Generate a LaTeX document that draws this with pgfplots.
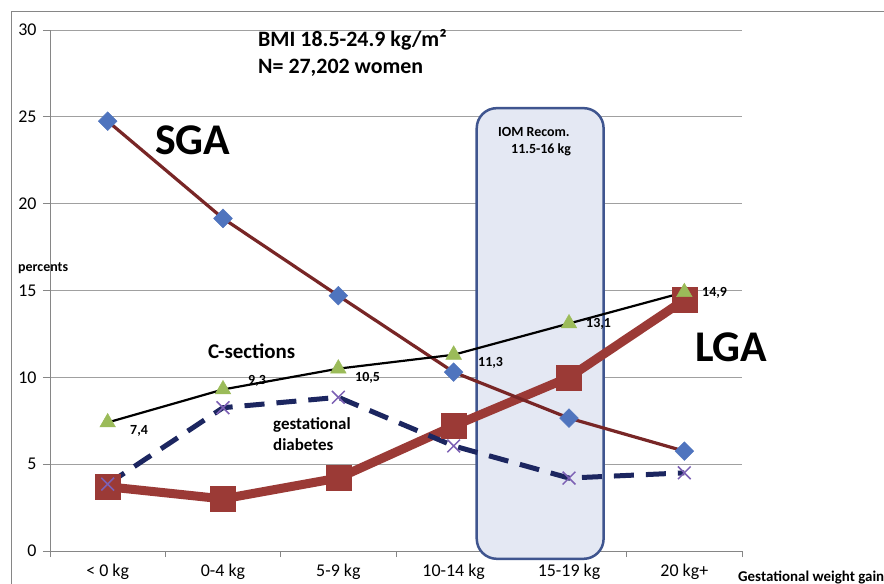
\documentclass[border=0pt]{standalone}
\usepackage{pgfplots}
\pgfplotsset{compat=1.18}
\usepackage{fontspec}
\setmainfont{Carlito}
\definecolor{sgaline}{RGB}{120,38,38}
\definecolor{sgamark}{RGB}{79,116,190}
\definecolor{lga}{RGB}{155,58,54}
\definecolor{csmark}{RGB}{155,187,89}
\definecolor{gdm}{RGB}{28,38,96}
\definecolor{gdmmark}{RGB}{124,96,180}
\definecolor{boxfill}{RGB}{228,232,243}
\definecolor{boxdraw}{RGB}{63,85,143}
\definecolor{gridc}{RGB}{160,160,160}
\definecolor{axc}{RGB}{134,134,134}
\begin{document}
\begin{tikzpicture}
\path[use as bounding box, clip] (0,0) rectangle (884bp,584bp);
\fill[white] (0,0) rectangle (884bp,584bp);
\draw[axc, line width=1bp] (11.5bp,-10bp) -- (11.5bp,572.5bp) -- (900bp,572.5bp);
\begin{axis}[
  at={(50bp,33bp)}, anchor=south west,
  scale only axis, width=692bp, height=521bp,
  xmin=-0.5, xmax=5.5, ymin=0, ymax=30,
  axis x line=bottom, axis y line=left,
  axis line style={-, axc, line width=0.8bp},
  xtick={0,1,2,3,4,5},
  xticklabels={{< 0 kg},{0-4 kg},{5-9 kg},{10-14 kg},{15-19 kg},{20 kg+}},
  major x tick style={draw=none},
  minor xtick={-0.5,0.5,1.5,2.5,3.5,4.5,5.5},
  minor x tick style={axc, line width=0.8bp},
  tick align=outside,
  minor tick length=6bp,
  major tick length=7bp,
  ytick={0,5,10,15,20,25,30},
  y tick style={axc, line width=0.8bp},
  ymajorgrids, major grid style={gridc, line width=0.8bp},
  tick label style={font=\fontsize{18}{20}\selectfont},
  /pgf/number format/assume math mode=true,
  xticklabel style={yshift=-3bp},
  yticklabel style={xshift=-3bp},
  clip=false,
]
\draw[boxdraw, fill=boxfill, line width=2.5bp, rounded corners=20bp]
  (axis cs:3.2,-0.45) rectangle (axis cs:4.3,25.5);
% LGA
\addplot[lga, line width=9bp, mark=square*, mark size=12.5bp, mark options={fill=lga, draw=lga, line width=0.5bp}]
  coordinates {(0,3.7) (1,3.0) (2,4.2) (3,7.2) (4,10.0) (5,14.45)};
% SGA
\addplot[sgaline, line width=3.2bp, mark=square*, mark size=6.6bp, mark options={rotate=45, fill=sgamark, draw=sgamark, line width=0.5bp}]
  coordinates {(0,24.75) (1,19.15) (2,14.7) (3,10.3) (4,7.65) (5,5.75)};
% C-sections
\addplot[black, line width=2.2bp, mark=triangle*, mark size=9bp, mark options={fill=csmark, draw=csmark, line width=0.5bp}]
  coordinates {(0,7.4) (1,9.3) (2,10.5) (3,11.3) (4,13.1) (5,14.9)};
% Gestational diabetes
\addplot[gdm, line width=5bp, dash pattern=on 20bp off 12bp, mark=x, mark size=9bp, mark options={solid, draw=gdmmark, line width=1.5bp}]
  coordinates {(0,3.85) (1,8.25) (2,8.85) (3,6.05) (4,4.2) (5,4.5)};
\end{axis}
\begin{scope}[every node/.style={inner sep=0pt, anchor=base west}]
\node at (258bp,537bp) {\fontsize{22}{24}\selectfont\bfseries BMI 18.5-24.9 kg/m²};
\node at (258bp,510bp) {\fontsize{22}{24}\selectfont\bfseries N= 27,202 women};
\node at (155bp,429bp) {\fontsize{44}{48}\selectfont\bfseries SGA};
\node at (695bp,222bp) {\fontsize{44}{48}\selectfont\bfseries LGA};
\node at (498bp,447bp) {\fontsize{14}{16}\selectfont\bfseries IOM Recom.};
\node at (511bp,430bp) {\fontsize{14}{16}\selectfont\bfseries 11.5-16 kg};
\node at (208bp,225bp) {\fontsize{21}{24}\selectfont\bfseries C-sections};
\node at (273bp,154bp) {\fontsize{17}{20}\selectfont\bfseries gestational};
\node at (273bp,133bp) {\fontsize{17}{20}\selectfont\bfseries diabetes};
\node at (18bp,312bp) {\fontsize{14}{16}\selectfont\bfseries percents};
\node at (738bp,3bp) {\fontsize{15}{17}\selectfont\bfseries Gestational weight gain};
\node at (130bp,149bp) {\fontsize{14}{16}\selectfont\bfseries 7,4};
\node at (248bp,199bp) {\fontsize{14}{16}\selectfont\bfseries 9,3};
\node at (355bp,202bp) {\fontsize{14}{16}\selectfont\bfseries 10,5};
\node at (478bp,217bp) {\fontsize{14}{16}\selectfont\bfseries 11,3};
\node at (586bp,256bp) {\fontsize{14}{16}\selectfont\bfseries 13,1};
\node at (702bp,287bp) {\fontsize{14}{16}\selectfont\bfseries 14,9};
\end{scope}
\end{tikzpicture}
\end{document}
